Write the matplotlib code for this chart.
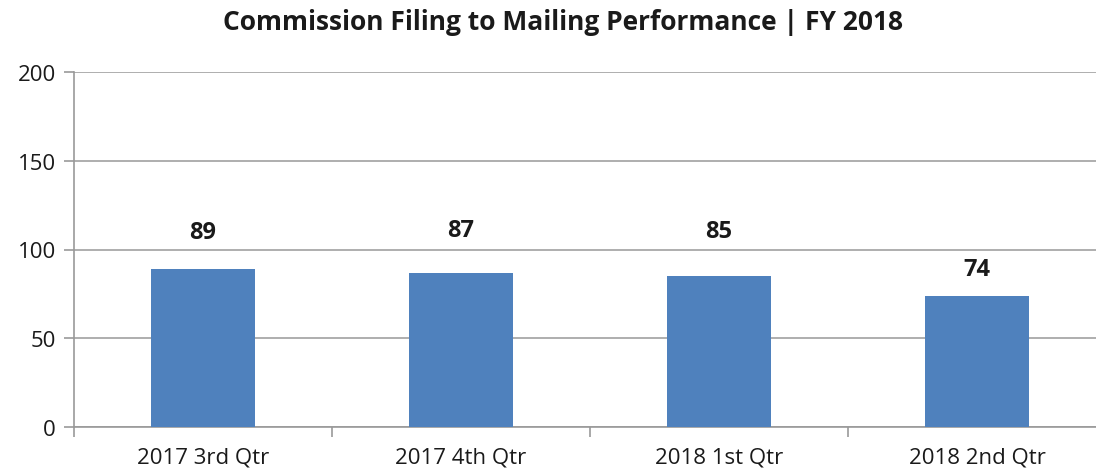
import matplotlib
matplotlib.use("Agg")
import matplotlib.pyplot as plt
import numpy as np

categories = ["2017 3rd Qtr", "2017 4th Qtr", "2018 1st Qtr", "2018 2nd Qtr"]
values = [89, 87, 85, 74]
yticks = [0, 50, 100, 150, 200]
title = "Commission Filing to Mailing Performance | FY 2018"

# label placement offsets above each bar (layout, in data units)
label_dy = [20.8, 24.2, 25.7, 15.2]

plt.rcParams['font.family'] = ['Open Sans', 'DejaVu Sans']

fig = plt.figure(figsize=(10.96, 4.77), dpi=100)
ax = fig.add_axes([74/1096, (477-428)/477, 1032/1096, (428-73)/477])

x = np.arange(len(categories))
ax.bar(x, values, width=0.4, color="#4F81BD", zorder=3)
for xi, v, dy in zip(x, values, label_dy):
    ax.text(xi, v + dy, str(v), ha="center", va="center", fontsize=17,
            fontweight="bold", color="#1a1a1a")

ax.set_xlim(-0.5, len(categories) - 0.5)
ax.set_ylim(0, 200)
ax.set_yticks(yticks)
ax.set_yticklabels([str(t) for t in yticks], fontsize=16, color="#1a1a1a")
ax.set_xticks(x)
ax.set_xticklabels(categories, fontsize=16, color="#1a1a1a")
ax.tick_params(axis="x", length=0, pad=14)
ax.set_xticks(np.arange(-0.5, len(categories)), minor=True)
ax.tick_params(axis="x", which="minor", length=7, color="#999999", width=1.2)
ax.tick_params(axis="y", length=7, color="#999999", width=1.2, pad=6)

ax.grid(axis="y", color="#999999", linewidth=1.1, zorder=0)
for s in ["top", "right"]:
    ax.spines[s].set_visible(False)
for s in ["left", "bottom"]:
    ax.spines[s].set_color("#999999")
    ax.spines[s].set_linewidth(1.2)

fig.text(563/1096, 1 - 22/477, title, ha="center", va="center", fontsize=19,
         fontweight="bold", color="#1a1a1a")

fig.savefig("out.png", dpi=100)
